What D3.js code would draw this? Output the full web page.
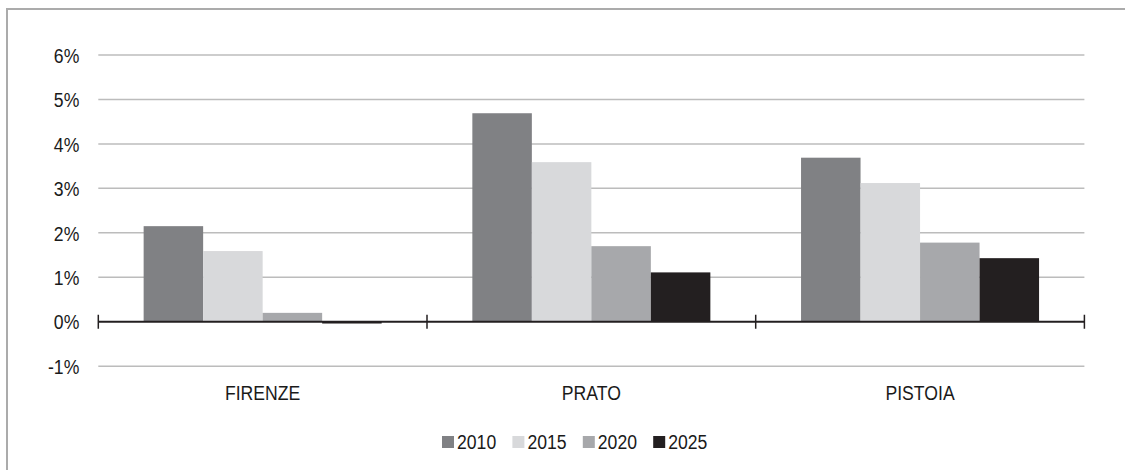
<!DOCTYPE html>
<html>
<head>
<meta charset="utf-8">
<script src="https://cdn.jsdelivr.net/npm/d3@7"></script>
<style>
  html, body { margin: 0; padding: 0; background: #fff; }
  svg { display: block; }
  text { font-family: "Liberation Sans", Arial, sans-serif; fill: #1a1a1a; }
</style>
</head>
<body>
<svg id="chart" width="1125" height="470"></svg>
<script>
// Provinces on the category axis
const categories = ["FIRENZE", "PRATO", "PISTOIA"];
// Years shown as grouped bars
const series = ["2010", "2015", "2020", "2025"];
// Percentage values per year, one entry per province
const values2010 = [2.15, 4.69, 3.69];
const values2015 = [1.59, 3.59, 3.12];
const values2020 = [0.20, 1.70, 1.78];
const values2025 = [-0.04, 1.11, 1.43];
// Y-axis ticks (percent)
const yTicks = [-1, 0, 1, 2, 3, 4, 5, 6];

const seriesValues = [values2010, values2015, values2020, values2025];
const colors = ["#808184", "#d8d9db", "#a7a8ab", "#231f20"];

// condensed lettering: regular sans squeezed horizontally
const FONT_SIZE = 20.5;
const SQUEEZE = 0.86;

const rows = categories.map((c, i) => {
  const r = { category: c };
  series.forEach((s, j) => { r[s] = seriesValues[j][i]; });
  return r;
});

const svg = d3.select("#chart");

// outer frame (only top and left edges fall inside the canvas)
svg.append("rect")
  .attr("x", 7).attr("y", 9)
  .attr("width", 1140).attr("height", 480)
  .attr("fill", "none")
  .attr("stroke", "#ababab")
  .attr("stroke-width", 2);

const x0 = d3.scaleBand().domain(categories).range([98.3, 1084.4]).padding(0);
const x1 = d3.scaleBand().domain(series).range([0, x0.bandwidth()])
  .paddingInner(0).paddingOuter(0.762);
const y = d3.scaleLinear().domain([-1, 6]).range([366.2, 55]);
const color = d3.scaleOrdinal().domain(series).range(colors);

// horizontal gridlines
svg.append("g")
  .selectAll("line")
  .data(yTicks.filter(t => t !== 0))
  .join("line")
  .attr("x1", x0.range()[0]).attr("x2", x0.range()[1])
  .attr("y1", d => y(d)).attr("y2", d => y(d))
  .attr("stroke", "#bcbcbc")
  .attr("stroke-width", 1.5);

// y axis labels (axis generator places the ticks, text is squeezed afterwards)
const yAxis = d3.axisLeft(y)
  .tickValues(yTicks)
  .tickFormat(d => d + "%")
  .tickSize(0)
  .tickPadding(0);
const gy = svg.append("g").attr("transform", `translate(${x0.range()[0] - 19},0)`).call(yAxis);
gy.select(".domain").remove();
gy.selectAll("text")
  .attr("x", 0)
  .attr("dy", "0.35em")
  .attr("font-size", FONT_SIZE)
  .attr("fill", "#1a1a1a")
  .attr("font-family", '"Liberation Sans", Arial, sans-serif')
  .attr("transform", `scale(${SQUEEZE},1)`);

// bars
svg.append("g")
  .selectAll("g")
  .data(rows)
  .join("g")
  .attr("transform", d => `translate(${x0(d.category)},0)`)
  .selectAll("rect")
  .data(d => series.map(s => ({ key: s, value: d[s] })))
  .join("rect")
  .attr("x", d => x1(d.key))
  .attr("width", x1.bandwidth())
  .attr("y", d => y(Math.max(0, d.value)))
  .attr("height", d => Math.abs(y(d.value) - y(0)))
  .attr("fill", d => color(d.key));

// zero baseline with category separators
const zeroY = y(0);
svg.append("line")
  .attr("x1", x0.range()[0]).attr("x2", x0.range()[1])
  .attr("y1", zeroY).attr("y2", zeroY)
  .attr("stroke", "#231f20").attr("stroke-width", 2);

const boundaries = categories.map(c => x0(c)).concat([x0.range()[1]]);
svg.append("g")
  .selectAll("line")
  .data(boundaries)
  .join("line")
  .attr("x1", d => d).attr("x2", d => d)
  .attr("y1", zeroY - 7).attr("y2", zeroY + 7)
  .attr("stroke", "#231f20").attr("stroke-width", 1.5);

// category labels
svg.append("g")
  .selectAll("text")
  .data(categories)
  .join("text")
  .attr("transform", d => `translate(${x0(d) + x0.bandwidth() / 2},399.5) scale(${SQUEEZE},1)`)
  .attr("text-anchor", "middle")
  .attr("font-size", FONT_SIZE)
  .text(d => d);

// legend
const legend = svg.append("g").attr("transform", "translate(442,0)");
const item = legend.selectAll("g")
  .data(series)
  .join("g")
  .attr("transform", (d, i) => `translate(${i * 70.4},0)`);
item.append("rect")
  .attr("x", 0).attr("y", 436)
  .attr("width", 12).attr("height", 12)
  .attr("fill", d => color(d));
item.append("text")
  .attr("transform", `translate(15,449) scale(${SQUEEZE},1)`)
  .attr("font-size", FONT_SIZE)
  .text(d => d);
</script>
</body>
</html>
